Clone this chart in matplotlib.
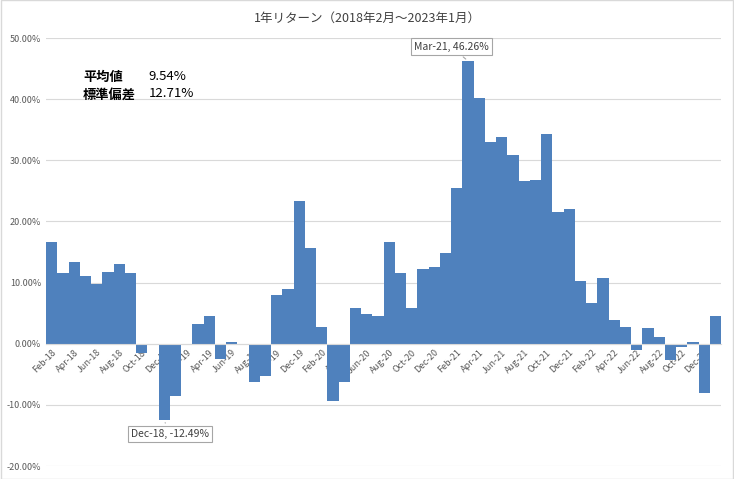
import matplotlib.pyplot as plt
from matplotlib.ticker import FuncFormatter

plt.rcParams['font.family'] = ['Noto Sans CJK JP', 'DejaVu Sans']

months = ['Feb', 'Mar', 'Apr', 'May', 'Jun', 'Jul', 'Aug', 'Sep', 'Oct', 'Nov', 'Dec', 'Jan']
labels = []
for y in range(18, 23):
    for m in months:
        yy = y + 1 if m == 'Jan' else y
        labels.append(f'{m}-{yy}')

returns = [16.6, 11.5, 13.4, 11.1, 9.7, 11.8, 13.0, 11.6, -1.6, -0.2, -12.49, -8.6,
           0.0, 3.2, 4.6, -2.5, 0.2, 0.0, -6.3, -5.2, 7.9, 8.9, 23.4, 15.7,
           2.8, -9.3, -6.2, 5.8, 4.8, 4.5, 16.6, 11.6, 5.8, 12.2, 12.5, 14.9,
           25.4, 46.26, 40.2, 33.0, 33.8, 30.8, 26.6, 26.7, 34.3, 21.5, 22.0, 10.3,
           6.6, 10.7, 3.9, 2.8, -1.1, 2.6, 1.1, -2.7, -0.6, 0.2, -8.0, 4.5]

fig = plt.figure(figsize=(7.34, 4.79), dpi=100)
ax = fig.add_axes([46 / 734, 13 / 479, 675 / 734, 428 / 479])
x = list(range(len(returns)))
ax.bar(x, returns, width=1.0, color='#4f81bd', zorder=2)
ax.set_xlim(-0.5, len(returns) - 0.5)
ax.set_ylim(-20, 50)
ax.set_yticks(range(-20, 51, 10))
ax.yaxis.set_major_formatter(FuncFormatter(lambda v, p: f'{v:.2f}%'))
ax.grid(axis='y', color='#d9d9d9', linewidth=0.8, zorder=0)
for s in ax.spines.values():
    s.set_visible(False)
ax.spines['bottom'].set_position(('data', 0))
ax.spines['bottom'].set_visible(True)
ax.spines['bottom'].set_color('#d9d9d9')
ax.set_xticks(x[::2])
ax.set_xticklabels(labels[::2], rotation=45, ha='right', rotation_mode='anchor',
                   fontsize=6.5, color='#595959')
ax.tick_params(axis='x', length=0, pad=3)
ax.tick_params(axis='y', length=0, labelsize=6.5, labelcolor='#595959')

fig.suptitle('1年リターン（2018年2月～2023年1月）', y=0.975, fontsize=9, color='#404040')
ax.text(0.055, 0.925, '平均値\n標準偏差', transform=ax.transAxes,
        fontsize=9.5, fontweight='bold', va='top', linespacing=1.35)
ax.text(0.152, 0.925, '9.54%\n12.71%', transform=ax.transAxes,
        fontsize=9.5, va='top', linespacing=1.35)

bbox = dict(boxstyle='square,pad=0.3', fc='white', ec='#a6a6a6', lw=0.8)
ax.annotate('Mar-21, 46.26%', xy=(37, 46.26), xytext=(35.5, 48.6), fontsize=7.5,
            color='#404040', ha='center', va='center', bbox=bbox,
            arrowprops=dict(arrowstyle='-', color='#a6a6a6', lw=0.8))
ax.annotate('Dec-18, -12.49%', xy=(10, -12.49), xytext=(10.5, -14.8), fontsize=7.5,
            color='#404040', ha='center', va='center', bbox=bbox,
            arrowprops=dict(arrowstyle='-', color='#a6a6a6', lw=0.8))

fig.patches.append(plt.Rectangle((0.001, 0.001), 0.998, 0.998, transform=fig.transFigure,
                                 fill=False, ec='#d9d9d9', lw=1))
fig.savefig('out.png', dpi=100)
